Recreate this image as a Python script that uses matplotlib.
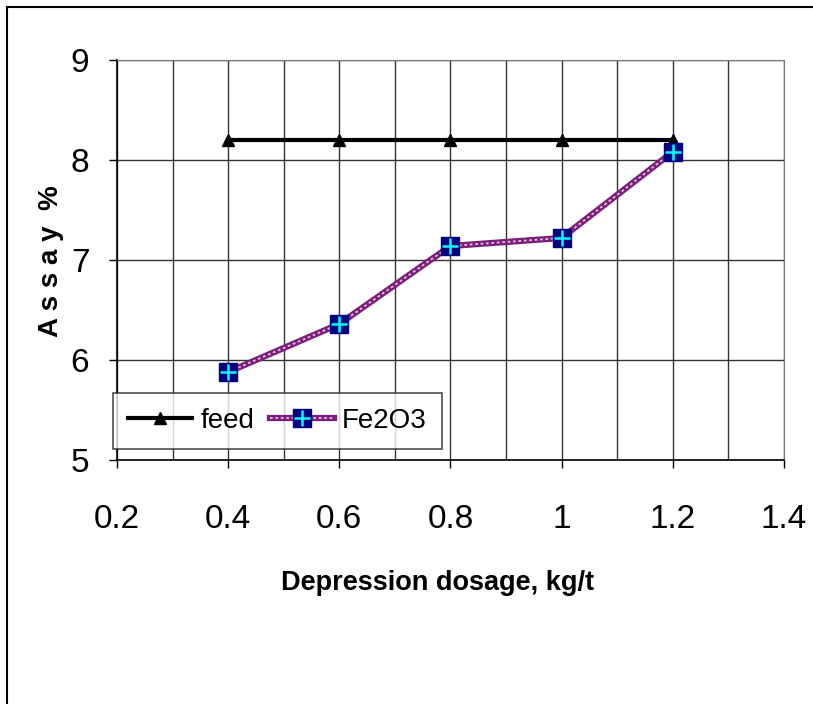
import matplotlib
matplotlib.use("Agg")
import matplotlib.pyplot as plt
from matplotlib.patches import Rectangle
from matplotlib.ticker import FixedLocator, MultipleLocator

plt.rcParams.update({"font.family": ["Liberation Sans", "DejaVu Sans"]})

dosage = [0.4, 0.6, 0.8, 1.0, 1.2]
feed = [8.2, 8.2, 8.2, 8.2, 8.2]
fe2o3 = [5.88, 6.36, 7.14, 7.22, 8.08]
xticks = [0.2, 0.4, 0.6, 0.8, 1.0, 1.2, 1.4]
xticklabels = ["0.2", "0.4", "0.6", "0.8", "1", "1.2", "1.4"]
yticks = [5, 6, 7, 8, 9]

fig = plt.figure(figsize=(8.13, 7.04), dpi=100)
ax = fig.add_axes([0.144, 0.3466, 0.820, 0.5682])

# outer chart-area border (runs off the right and bottom edges)
fig.patches.append(Rectangle((7 / 813, -0.2), 1.2, 1.2 - 7 / 704,
                             transform=fig.transFigure, fill=False,
                             edgecolor="black", lw=1.5))

ax.set_xlim(0.2, 1.4)
ax.set_ylim(5, 9)
ax.xaxis.set_major_locator(FixedLocator(xticks))
ax.xaxis.set_minor_locator(MultipleLocator(0.1))
ax.set_xticks(xticks)
ax.set_xticklabels(xticklabels)
ax.set_yticks(yticks)
ax.grid(True, which="both", axis="x", color="#333333", lw=1)
ax.grid(True, which="major", axis="y", color="#333333", lw=1)
ax.tick_params(which="minor", length=0)
ax.tick_params(which="major", direction="out", length=6, width=1,
               labelsize=24)
ax.tick_params(axis="x", pad=26)
ax.tick_params(axis="y", pad=14)
for s in ["top", "right"]:
    ax.spines[s].set_color("#777777")
for s in ["left", "bottom"]:
    ax.spines[s].set_linewidth(1.2)

hf, = ax.plot(dosage, feed, color="black", lw=3, marker="^", ms=8, zorder=3)
h1, = ax.plot(dosage, fe2o3, color="#7b1f7b", lw=4.5, zorder=3)
h2, = ax.plot(dosage, fe2o3, color="#e0c0e0", lw=1.3, ls=(0, (1.5, 1.5)),
              marker="s", ms=13, mfc="#000080", mec="#000080", zorder=4)
h3, = ax.plot(dosage, fe2o3, ls="none", marker="+", ms=11, mew=1.8,
              color="#00ffff", zorder=5)

leg = ax.legend([hf, (h1, h2, h3)], ["feed", "Fe2O3"], ncol=2,
                loc="lower left", bbox_to_anchor=(-0.006, 0.027),
                fontsize=20, frameon=True, fancybox=False,
                handlelength=2.3, handletextpad=0.3, columnspacing=0.55,
                borderpad=0.55, borderaxespad=0)
leg.get_frame().set_edgecolor("#222222")
leg.get_frame().set_linewidth(1.2)
leg.set_zorder(6)

ax.set_xlabel("Depression dosage, kg/t", fontsize=19.5, fontweight="bold")
ax.xaxis.set_label_coords(0.4805, -0.275)
ax.set_ylabel("A s s a y  %", fontsize=20, fontweight="bold")
ax.yaxis.set_label_coords(-0.080, 0.4975)

fig.savefig("out.png", dpi=100, facecolor="white")
